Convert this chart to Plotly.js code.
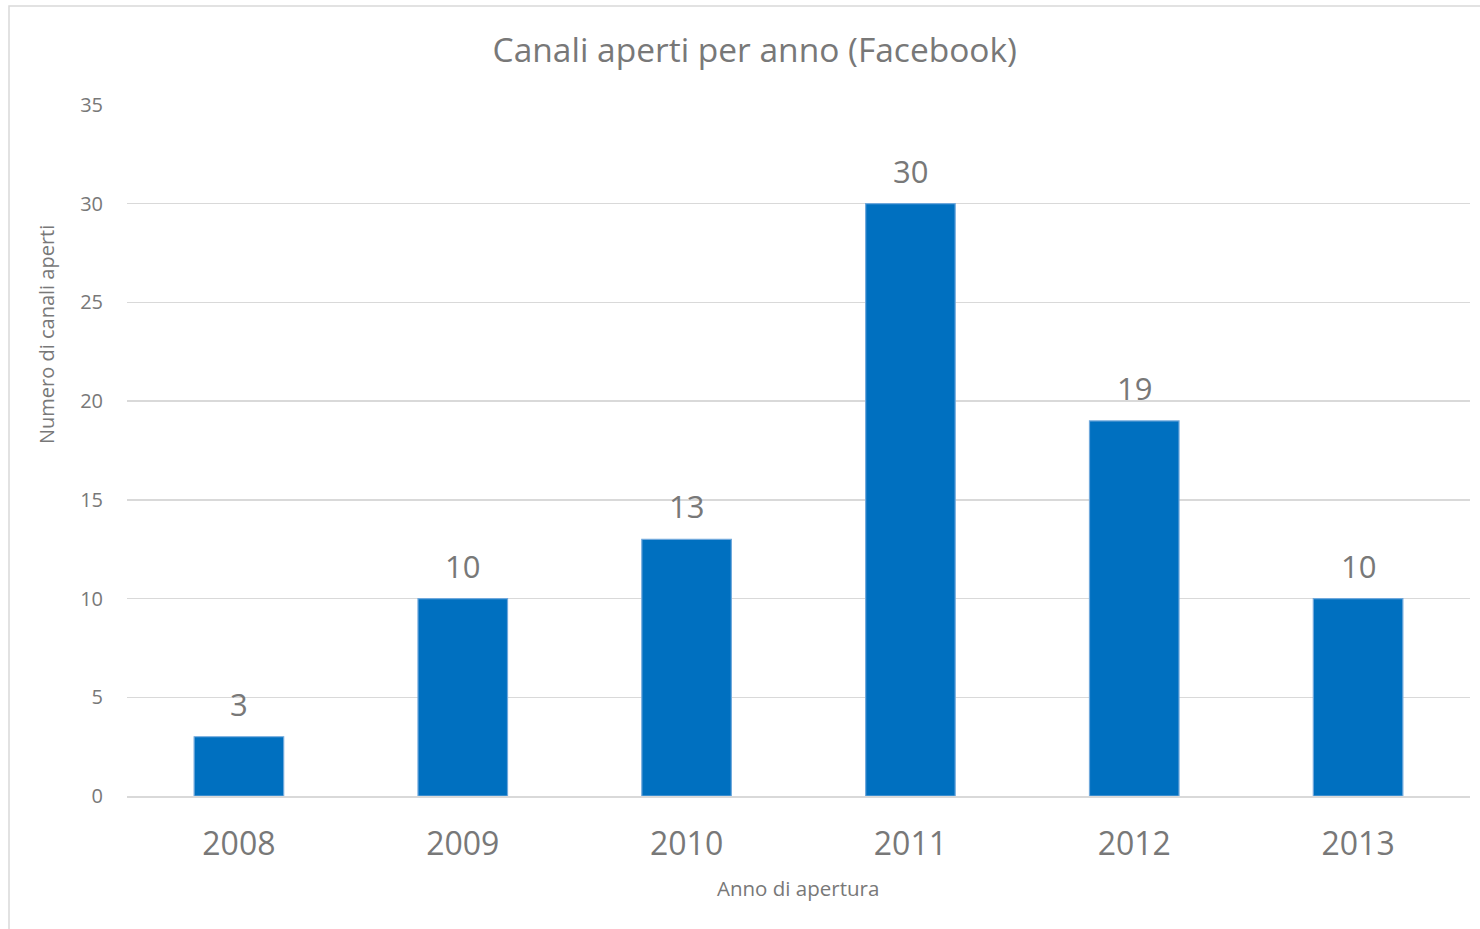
<!DOCTYPE html>
<html>
<head>
<meta charset="utf-8">
<script src="https://cdn.plot.ly/plotly-3.0.1.min.js"></script>
<style>
html,body{margin:0;padding:0;background:#fff;}
#chart{width:1480px;height:929px;}
</style>
</head>
<body>
<div id="chart"></div>
<script>
const years = ['2008', '2009', '2010', '2011', '2012', '2013'];
const channels = [3, 10, 13, 30, 19, 10];
const yTicks = [0, 5, 10, 15, 20, 25, 30, 35];

const textColor = '#787878';
const fontFam = '"Open Sans", "Noto Sans", sans-serif';

const trace = {
  type: 'bar',
  x: years,
  y: channels,
  marker: {color: '#0070C0', line: {color: '#6FA8DC', width: 1.2}},
  hoverinfo: 'x+y'
};

// category axis: annotations placed by category index
const valueLabels = years.map((yr, i) => ({
  x: i, y: channels[i], xref: 'x', yref: 'y',
  text: String(channels[i]), showarrow: false,
  xanchor: 'center', yanchor: 'middle', yshift: 33,
  font: {family: fontFam, size: 31, color: textColor}
}));

const layout = {
  width: 1480,
  height: 929,
  margin: {l: 127, r: 10, t: 105, b: 133},
  paper_bgcolor: '#ffffff',
  plot_bgcolor: '#ffffff',
  bargap: 0.6,
  showlegend: false,
  font: {family: fontFam, color: textColor},
  title: {
    text: 'Canali aperti per anno (Facebook)',
    font: {family: fontFam, size: 33.5, color: textColor},
    x: 0.51, xanchor: 'center',
    y: 0.946, yanchor: 'middle'
  },
  xaxis: {
    type: 'category',
    categoryorder: 'array',
    categoryarray: years,
    tickfont: {family: fontFam, size: 32, color: textColor},
    ticks: 'outside', ticklen: 19, tickcolor: 'rgba(0,0,0,0)',
    showgrid: false,
    showline: true, linecolor: '#d9d9d9', linewidth: 1.5
  },
  yaxis: {
    range: [0, 35],
    tickvals: yTicks,
    ticktext: yTicks.map(String),
    tickfont: {family: fontFam, size: 20, color: textColor},
    ticks: 'outside', ticklen: 19, tickcolor: 'rgba(0,0,0,0)',
    showgrid: true, gridcolor: '#d9d9d9', gridwidth: 1.3,
    zeroline: false, showline: false
  },
  annotations: valueLabels.concat([
    {
      text: 'Anno di apertura', xref: 'paper', yref: 'paper',
      x: (798 - 127) / 1343, y: (796 - 888) / 691,
      xanchor: 'center', yanchor: 'middle', showarrow: false,
      font: {family: fontFam, size: 20.5, color: textColor}
    },
    {
      text: 'Numero di canali aperti', xref: 'paper', yref: 'paper',
      x: (46 - 127) / 1343, y: (796 - 335) / 691, textangle: -90,
      xanchor: 'center', yanchor: 'middle', showarrow: false,
      font: {family: fontFam, size: 20, color: textColor}
    }
  ]),
  shapes: [{
    type: 'rect', xref: 'paper', yref: 'paper', layer: 'below',
    x0: -118 / 1343, x1: 1.05, y0: -0.3, y1: 1 + 99 / 691,
    line: {color: '#d9d9d9', width: 1.5}, fillcolor: 'rgba(0,0,0,0)'
  }]
};

Plotly.newPlot('chart', [trace], layout, {displayModeBar: false, staticPlot: true});
</script>
</body>
</html>
